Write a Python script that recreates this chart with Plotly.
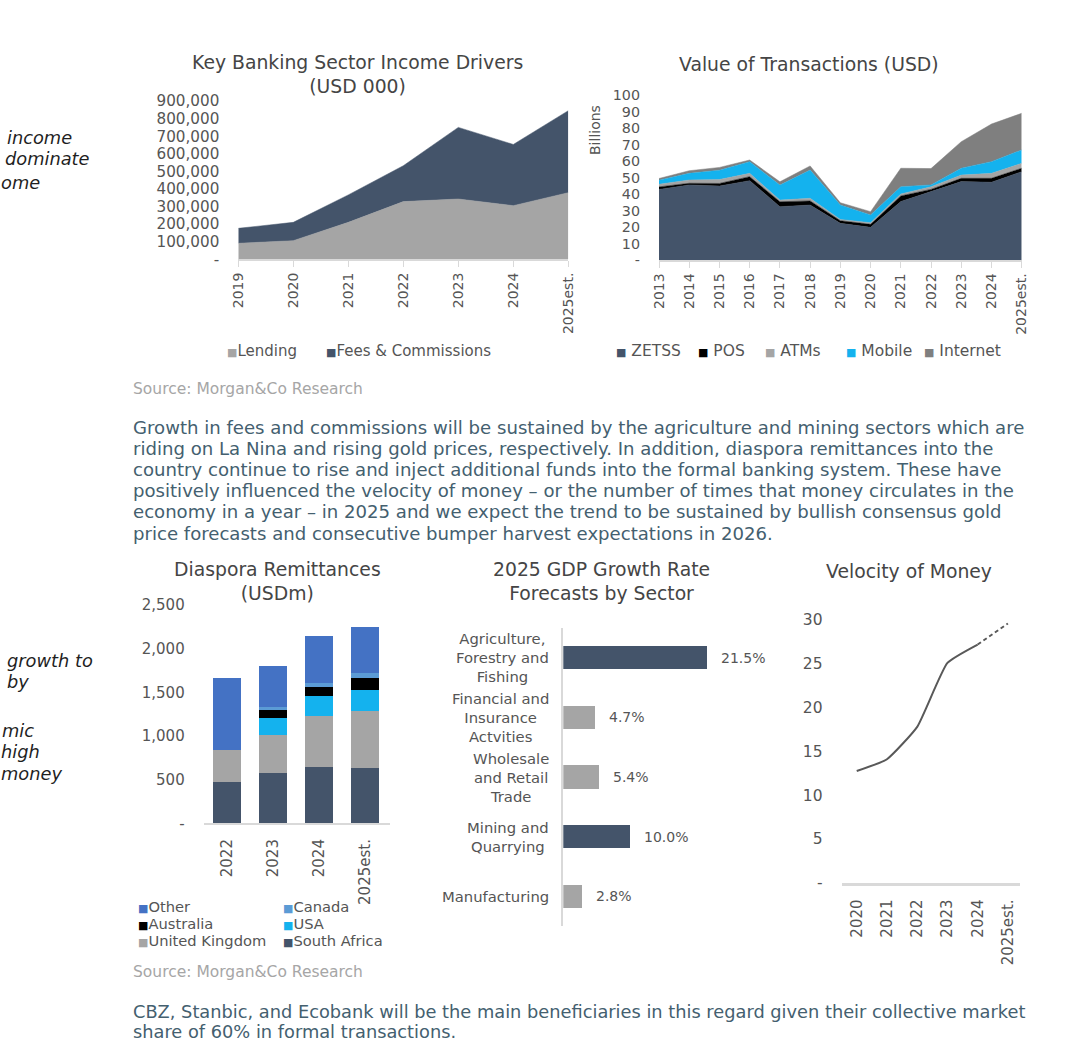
import plotly.graph_objects as go

W, H = 1080, 1062


def fx(p):
    return p / W


def fy(p):
    return 1 - p / H


# ---------------- DATA ----------------
income_years = ["2019", "2020", "2021", "2022", "2023", "2024", "2025est."]
lending = [91000, 106000, 210000, 328000, 343000, 305000, 379000]
fees_commissions = [85000, 104000, 156000, 204000, 407000, 348000, 466000]
income_tickvals = [0, 100000, 200000, 300000, 400000, 500000, 600000, 700000, 800000, 900000]
income_ticktext = ["-", "100,000", "200,000", "300,000", "400,000", "500,000",
                   "600,000", "700,000", "800,000", "900,000"]

tx_years = ["2013", "2014", "2015", "2016", "2017", "2018", "2019", "2020",
            "2021", "2022", "2023", "2024", "2025est."]
zetss = [42.8, 45.5, 44.8, 48.1, 32.3, 33.3, 22.2, 19.8, 35.4, 41.4, 47.5, 47.1, 53.5]
pos = [1.5, 1.0, 1.6, 2.4, 3.0, 2.5, 1.6, 1.8, 3.4, 1.4, 2.0, 2.4, 2.1]
atms = [1.6, 2.0, 2.4, 2.0, 1.0, 1.6, 0.8, 1.0, 1.2, 1.6, 2.0, 3.0, 3.0]
mobile = [2.5, 4.0, 5.6, 7.1, 9.1, 17.1, 8.7, 4.7, 4.4, 1.1, 4.1, 7.1, 8.1]
internet = [1.0, 1.6, 1.7, 1.0, 2.0, 2.5, 1.4, 2.0, 11.2, 9.9, 16.1, 22.8, 22.2]
tx_tickvals = [0, 10, 20, 30, 40, 50, 60, 70, 80, 90, 100]
tx_ticktext = ["-", "10", "20", "30", "40", "50", "60", "70", "80", "90", "100"]

dias_years = ["2022", "2023", "2024", "2025est."]
south_africa = [477, 573, 641, 630]
united_kingdom = [363, 438, 588, 660]
usa = [0, 191, 229, 237]
australia = [0, 96, 107, 133]
canada = [0, 30, 46, 58]
other = [820, 474, 534, 534]
dias_tickvals = [0, 500, 1000, 1500, 2000, 2500]
dias_ticktext = ["-", "500", "1,000", "1,500", "2,000", "2,500"]

gdp_sectors = ["Agriculture,<br>Forestry and<br>Fishing",
               "Financial and<br>Insurance<br>Actvities",
               "Wholesale<br>and Retail<br>Trade",
               "Mining and<br>Quarrying",
               "Manufacturing"]
gdp_growth = [21.5, 4.7, 5.4, 10.0, 2.8]

vel_years = ["2020", "2021", "2022", "2023", "2024", "2025est."]
velocity = [12.75, 14.1, 17.8, 25.1, 27.2, 29.6]
vel_tickvals = [0, 5, 10, 15, 20, 25, 30]
vel_ticktext = ["-", "5", "10", "15", "20", "25", "30"]

# ---------------- STYLE ----------------
FONT = "DejaVu Sans"
TXT = "#454545"
TICK = "#555555"
AXIS = "#d9d9d9"
DARK = "#44546a"
GRAY = "#a5a5a5"
CYAN = "#14b2ee"
INTERNET = "#7f7f7f"
BLUE = "#4472c4"
CANADA = "#5b9bd5"
gdp_colors = [DARK, GRAY, GRAY, DARK, GRAY]

fig = go.Figure()

# Chart 1 : stacked area
for name, vals, col in [("Lending", lending, GRAY), ("Fees & Commissions", fees_commissions, DARK)]:
    fig.add_trace(go.Scatter(x=income_years, y=vals, name=name, stackgroup="inc",
                             mode="lines", line=dict(width=0.5, color=col),
                             fillcolor=col, xaxis="x", yaxis="y"))

# Chart 2 : stacked area
for name, vals, col in [("ZETSS", zetss, DARK), ("POS", pos, "#000000"),
                        ("ATMs", atms, GRAY), ("Mobile", mobile, CYAN),
                        ("Internet", internet, INTERNET)]:
    fig.add_trace(go.Scatter(x=tx_years, y=vals, name=name, stackgroup="tx",
                             mode="lines", line=dict(width=0.5, color=col),
                             fillcolor=col, xaxis="x2", yaxis="y2"))

# Chart 3 : stacked bars
for name, vals, col in [("South Africa", south_africa, DARK),
                        ("United Kingdom", united_kingdom, GRAY),
                        ("USA", usa, CYAN), ("Australia", australia, "#000000"),
                        ("Canada", canada, CANADA), ("Other", other, BLUE)]:
    fig.add_trace(go.Bar(x=dias_years, y=vals, name=name, marker=dict(color=col, line=dict(width=0)),
                         width=0.61, xaxis="x3", yaxis="y3"))

# Chart 4 : horizontal bars
fig.add_trace(go.Bar(x=gdp_growth, y=gdp_sectors, orientation="h",
                     marker=dict(color=gdp_colors, line=dict(width=0)),
                     width=0.39, xaxis="x4", yaxis="y4"))

# Chart 5 : line
fig.add_trace(go.Scatter(x=vel_years[:5], y=velocity[:5], mode="lines",
                         line=dict(color="#595959", width=2, shape="spline", smoothing=0.45),
                         xaxis="x5", yaxis="y5"))
fig.add_trace(go.Scatter(x=vel_years[4:], y=velocity[4:], mode="lines",
                         line=dict(color="#595959", width=2, dash="4px,3px"),
                         xaxis="x5", yaxis="y5"))


def xcat(domain, rng, anchor, size, ticks=True):
    d = dict(domain=[fx(domain[0]), fx(domain[1])], range=rng, anchor=anchor,
             type="category", tickangle=-90,
             tickfont=dict(family=FONT, size=size, color=TICK), showgrid=False,
             zeroline=False, showline=True, linecolor=AXIS, linewidth=1.5,
             fixedrange=True)
    if ticks:
        d.update(ticks="outside", ticklen=6, tickcolor=AXIS, tickwidth=1)
    else:
        d.update(ticks="", ticklabelstandoff=8)
    return d


def yval(domain, rng, anchor, tv, tt, standoff=18, size=15):
    return dict(domain=[fy(domain[1]), fy(domain[0])], range=rng, anchor=anchor,
                tickvals=tv, ticktext=tt, tickfont=dict(family=FONT, size=size, color=TICK),
                showgrid=False, zeroline=False, showline=False, ticks="",
                ticklabelstandoff=standoff, fixedrange=True)


fig.update_layout(
    width=W, height=H, margin=dict(l=0, r=0, t=0, b=0, autoexpand=False),
    paper_bgcolor="white", plot_bgcolor="rgba(0,0,0,0)", showlegend=False,
    barmode="stack",
    xaxis=xcat((238.3, 568.3), [0, 6], "y", 14),
    yaxis=yval((101, 259.3), [0, 900000], "x", income_tickvals, income_ticktext, 18, 15.2),
    xaxis2=xcat((659, 1021.7), [0, 12], "y2", 14),
    yaxis2=yval((95, 260), [0, 100], "x2", tx_tickvals, tx_ticktext, 18, 14.3),
    xaxis3=xcat((203.7, 390), [-0.5, 3.55], "y3", 15, ticks=False),
    yaxis3=yval((605, 823.3), [0, 2500], "x3", dias_tickvals, dias_ticktext, 18, 15),
    xaxis4=dict(domain=[fx(563.3), fx(730)], range=[0, 25], anchor="y4",
                showticklabels=False, showgrid=False, zeroline=False, showline=False,
                fixedrange=True),
    yaxis4=dict(domain=[fy(926), fy(628)], range=[4.5, -0.5], anchor="x4", type="category",
                showticklabels=False, showgrid=False, zeroline=False, showline=True,
                linecolor=AXIS, linewidth=1.5, ticks="", fixedrange=True),
    xaxis5=xcat((841.6, 1020), [-0.5, 5.4], "y5", 15, ticks=False),
    yaxis5=yval((620, 882.7), [0, 30], "x5", vel_tickvals, vel_ticktext, 18, 15.5),
)
fig.update_layout(xaxis5=dict(linewidth=2.5))

ann = []


def text(x, y, s, size=18.8, color=TXT, xanchor="center", yanchor="middle", **kw):
    font = dict(family=kw.pop("family", FONT), size=size, color=color)
    if "style" in kw:
        font["style"] = kw.pop("style")
    ann.append(dict(x=fx(x), y=fy(y), xref="paper", yref="paper", text=s, showarrow=False,
                    xanchor=xanchor, yanchor=yanchor, font=font, borderpad=0, **kw))


# Titles
text(357, 74.5, "Key Banking Sector Income Drivers<br>(USD 000)")
text(809, 65, "Value of Transactions (USD)")
text(277.5, 581.7, "Diaspora Remittances<br>(USDm)")
text(601, 581.7, "2025 GDP Growth Rate<br>Forecasts by Sector")
text(909, 571.5, "Velocity of Money")
text(595, 130, "Billions", size=14, color=TICK, textangle=-90)


def sq(c, gap=""):
    return f'<span style="color:{c}; font-size:11px">■</span>{gap}'


# Legends
text(226, 351, sq(GRAY) + "Lending", size=15, color=TICK, xanchor="left")
text(325, 351, sq(DARK) + "Fees &amp; Commissions", size=15, color=TICK, xanchor="left")
for x0, name, col in [(615, "ZETSS", DARK), (697, "POS", "#000000"), (764, "ATMs", GRAY),
                      (845, "Mobile", CYAN), (923, "Internet", INTERNET)]:
    text(x0, 351, sq(col, " ") + name, size=15.5, color=TICK, xanchor="left")
for x0, y0, name, col in [(137, 906, "Other", BLUE), (282, 906, "Canada", CANADA),
                          (137, 923.2, "Australia", "#000000"), (282, 923.2, "USA", CYAN),
                          (137, 940.4, "United Kingdom", GRAY), (282, 940.4, "South Africa", DARK)]:
    text(x0, y0, sq(col) + name, size=14.7, color=TICK, xanchor="left")

# GDP category labels and value labels
for cat, val in zip(gdp_sectors, gdp_growth):
    ann.append(dict(x=fx(550), xref="paper", y=cat, yref="y4", text=cat, showarrow=False,
                    xanchor="right", yanchor="middle", align="center", borderpad=0,
                    font=dict(family=FONT, size=14.8, color=TICK)))
    ann.append(dict(x=val, xref="x4", y=cat, yref="y4", text=f"{val:.1f}%", showarrow=False,
                    xanchor="left", yanchor="middle", xshift=13, borderpad=0,
                    font=dict(family=FONT, size=14, color=TICK)))

# Sources
SRC = "#a6a6a6"
text(132, 389, "Source: Morgan&amp;Co Research", size=15.5, color=SRC, xanchor="left")
text(132, 972, "Source: Morgan&amp;Co Research", size=15.5, color=SRC, xanchor="left")

# Paragraphs
PARA = "#44606f"
para1 = ["Growth in fees and commissions will be sustained by the agriculture and mining sectors which are",
         "riding on La Nina and rising gold prices, respectively. In addition, diaspora remittances into the",
         "country continue to rise and inject additional funds into the formal banking system. These have",
         "positively influenced the velocity of money \u2013 or the number of times that money circulates in the",
         "economy in a year \u2013 in 2025 and we expect the trend to be sustained by bullish consensus gold",
         "price forecasts and consecutive bumper harvest expectations in 2026."]
for i, line in enumerate(para1):
    text(132, 427 + 21.2 * i, line, size=18.1, color=PARA, xanchor="left")
para2 = ["CBZ, Stanbic, and Ecobank will be the main beneficiaries in this regard given their collective market",
         "share of 60% in formal transactions."]
for i, line in enumerate(para2):
    text(132, 1011 + 20.8 * i, line, size=17.8, color=PARA, xanchor="left")

# Side texts (cut at page edge)
SIDE = "#1f1f1f"
for x0, y0, s in [(6, 137, "income"), (4, 158, "dominate"), (0, 182, "ome"),
                  (6, 660, "growth to"), (6, 681, "by"), (1, 730, "mic"),
                  (0, 751, "high"), (0, 774, "money")]:
    text(x0, y0, s, size=17.8, color=SIDE, xanchor="left", style="italic")

fig.update_layout(annotations=ann)
fig.write_html(
    "out.html",
    config=dict(displayModeBar=False),
    post_script=("document.documentElement.style.margin='0';"
                 "document.body.style.margin='0';document.body.style.padding='0';"
                 "document.documentElement.style.overflow='hidden';"
                 "document.body.style.overflow='hidden';"),
)
